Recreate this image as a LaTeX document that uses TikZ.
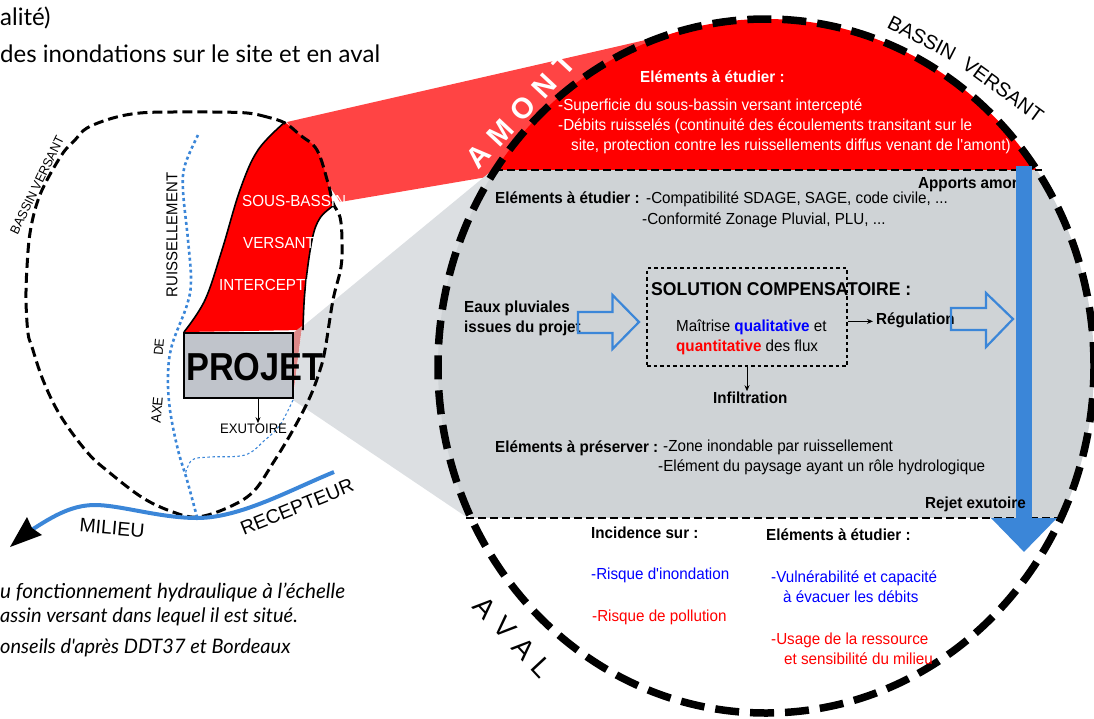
\documentclass[tikz,border=0pt]{standalone}
\usepackage{fontspec}
\usetikzlibrary{arrows.meta}
\setmainfont{Liberation Sans}
\newfontfamily\armain[FakeStretch=0.95]{Liberation Sans}
\newfontfamily\arproj[FakeStretch=0.88]{Liberation Sans}
\newfontfamily\lato{Lato}
\definecolor{flowblue}{HTML}{3B86D8}
\definecolor{fadered}{HTML}{FF4444}
\definecolor{fadegray}{HTML}{DCDFE2}
\definecolor{zonegray}{HTML}{CFD3D6}
\definecolor{boxgray}{HTML}{C0C4CB}
\definecolor{overlap}{HTML}{DD8888}
\tikzset{
  lbl/.style={inner sep=0pt, anchor=base west, font=\armain\fontsize{#1}{#1}\selectfont},
  lbl/.default=16,
  lblb/.style={inner sep=0pt, anchor=base west, font=\armain\bfseries\fontsize{#1}{#1}\selectfont},
  lblb/.default=16,
  lblc/.style={inner sep=0pt, anchor=center, font=\rmfamily\fontsize{#1}{#1}\selectfont},
  page/.style={inner sep=0pt, anchor=base west, font=\lato\fontsize{#1}{#1}\selectfont},
  pagei/.style={inner sep=0pt, anchor=base west, font=\lato\itshape\fontsize{#1}{#1}\selectfont},
  bassin/.style={line width=3pt, dash pattern=on 10pt off 5pt},
  bigcircle/.style={line width=7.5pt, dash pattern=on 24pt off 11pt},
  hollow/.style={draw=flowblue, line width=2.2pt, line join=miter},
  thinflow/.style={-{Stealth[length=6pt,width=5pt]}, line width=.9pt},
}
\begin{document}
\begin{tikzpicture}[x=1pt, y=-1pt]
  \useasboundingbox (0,0) rectangle (1094,718);

  % --- Text of the page ---
  \node[page=24] (line1) at (0,25) {alité)};
  \node[page=24] (line2) at (0,62) {des inondations sur le site et en aval};
  \node[pagei=20.7] (cap1) at (0,598) {u fonctionnement hydraulique à l’échelle};
  \node[pagei=20] (cap2) at (0,622) {assin versant dans lequel il est situé.};
  \node[pagei=20] (cap3) at (0,653) {onseils d'après DDT37 et Bordeaux};

  % --- Funnels from the small basin to the zoom ---
  \fill[fadered] (287,122) -- (650,39) -- (487,177) -- (340,202) -- cycle;
  \fill[fadegray] (302,327) -- (495,168) -- (468,518) -- (293,400) -- cycle;

  % --- Zoom: the three zones ---
  \begin{scope}
    \clip (766,366) ellipse [x radius=328pt, y radius=347pt];
    \fill[red] (430,15) rectangle (1094,170);
    \fill[zonegray] (430,170) rectangle (1094,518);
  \end{scope}

  % --- Small basin ---
  \fill[red] plot[smooth, tension=.6] coordinates {(184,332) (205,300) (222,250) (240,190) (258,150) (285,122)}
    -- plot[smooth, tension=.6] coordinates {(300,135) (317,150) (328,183) (333,206)}
    -- plot[smooth, tension=.6] coordinates {(320,218) (312,240) (305,290) (303,330)} -- cycle;
  \fill[overlap] (293,333) -- (302,326) -- (293,397) -- cycle;
  \draw[line width=1.6pt] plot[smooth, tension=.6] coordinates {(184,332) (205,300) (222,250) (240,190) (258,150) (285,122)};
  \draw[line width=1.6pt] plot[smooth, tension=.6] coordinates {(333,206) (320,218) (312,240) (305,290) (303,330)};
  \draw[bassin] plot[smooth cycle, tension=.6] coordinates {(285,123) (267,117) (247,113) (213,112) (173,112) (140,113) (113,118) (87,128) (75,140) (63,153) (47,180) (37,203) (30,233) (27,267) (26,300) (28,333) (32,347) (43,380) (60,415) (87,452) (110,473) (143,498) (173,512) (197,517) (227,508) (253,492) (273,463) (293,430) (310,397) (320,370) (325,350) (333,300) (341,267) (342,240) (340,217) (333,203) (328,183) (317,150) (300,135)};
  \draw[flowblue, line width=2.6pt, dash pattern=on 3pt off 3pt] plot[smooth, tension=.6] coordinates {(198,135) (185,165) (183,190) (188,240) (191,280) (187,305) (172,345) (168,375) (170,410) (178,450) (187,480) (197,517)};
  \draw[flowblue, line width=1.1pt, dash pattern=on 2.5pt off 2.5pt] plot[smooth, tension=.6] coordinates {(293,400) (280,425) (265,440) (245,455) (210,457) (192,460) (185,475)};

  \node[lbl=16, white] (sb1) at (242,206) {SOUS-BASSIN};
  \node[lbl=16, white] (sb2) at (243,248) {VERSANT};
  \node[lbl=16, white] (sb3) at (219,290) {INTERCEPTÉ};

  \node[draw, fill=boxgray, line width=2pt, minimum width=109pt, minimum height=65pt, inner sep=0pt] (projet) at (238.5,365.5) {};
  \node[inner sep=0pt, anchor=base west, font=\arproj\bfseries\fontsize{39}{39}\selectfont] (projettxt) at (186,380) {PROJET};
  \node[lbl=13.8] (exutoire) at (220,433) {EXUTOIRE};
  \draw[thinflow] (projet.south) ++(19.5,0) coordinate (exu) -- (exu |- exutoire.north);

  \node[lbl=13, rotate=64, anchor=center] (bv) at (37,185) {BASSIN VERSANT};
  \node[lbl=15.7, rotate=90, anchor=center] (ruis) at (172,235) {RUISSELLEMENT};
  \node[lbl=13, rotate=85, anchor=center] (de) at (159,347) {DE};
  \node[lbl=14, rotate=85, anchor=center] (axe) at (157,410) {AXE};

  % --- River ---
  \coordinate (riverstart) at (334,472);
  \coordinate (riverend) at (27,533);
  \draw[flowblue, line width=4pt] (riverstart) .. controls (290,490) and (240,518) .. (197,518)
    .. controls (160,518) and (120,505) .. (95,505) .. controls (70,505) and (50,518) .. (riverend);
  \fill (10,547) -- (27,517) -- (32,528) -- (42,535) -- cycle;
  \node[lblc=19.5, rotate=-5] (milieu) at (112,528) {MILIEU};
  \node[lblc=19.5, rotate=22] (recepteur) at (297,507) {RECEPTEUR};

  % --- Zoom: borders ---
  \draw[line width=2.6pt, dash pattern=on 8pt off 4pt] (495,170) -- (1042,170);
  \draw[line width=2.6pt, dash pattern=on 8pt off 4pt] (466,518) -- (1057,518);
  \draw[bigcircle] (766,366) ellipse [x radius=328pt, y radius=347pt];

  % --- Upstream zone ---
  \node[rotate=47, white, inner sep=0pt, font=\bfseries\rmfamily\fontsize{29}{29}\selectfont] (amont) at (521,111) {A\,\,M\,\,O\,\,N\,\,T};
  \node[lblc=20, rotate=-27] (bassin) at (922,38) {BASSIN};
  \node[lblc=20, rotate=-36] (versant) at (1003,90) {VERSANT};
  \node[lblb, white] (amontT) at (640,82) {Eléments à étudier :};
  \node[lbl, white] (am1) at (558,110) {-Superficie du sous-bassin versant intercepté};
  \node[lbl, white] (am2) at (558,130) {-Débits ruisselés (continuité des écoulements transitant sur le};
  \node[lbl, white] (am3) at (571,150) {site, protection contre les ruissellements diffus venant de l'amont)};

  % --- Site zone ---
  \node[lblb] (apports) at (918,188) {Apports amont};
  \node[lblb] (siteT) at (495,203) {Eléments à étudier :};
  \node[lbl] (site1) at (646,203) {-Compatibilité SDAGE, SAGE, code civile, ...};
  \node[lbl] (site2) at (642,224) {-Conformité Zonage Pluvial, PLU, ...};

  \node[draw, line width=1.6pt, dash pattern=on 3.5pt off 3pt, minimum width=200pt, minimum height=98pt, inner sep=0pt] (solution) at (747,317) {};
  \node[lblb=18.5] (solT) at (651,295) {SOLUTION COMPENSATOIRE :};
  \node[lbl] (sol1) at (676,331) {Maîtrise \textbf{\textcolor{blue}{qualitative}} et};
  \node[lbl] (sol2) at (676,351) {\textbf{\textcolor{red}{quantitative}} des flux};

  \node[lblb] (eaux1) at (464,312) {Eaux pluviales};
  \node[lblb] (eaux2) at (464,332) {issues du projet};
  \draw[hollow] (578,312) -- (612.5,312) -- (612.5,295) -- (639,322) -- (612.5,349) -- (612.5,333) -- (578,333) -- cycle;

  \node[lblb] (regul) at (876,324) {Régulation};
  \node[lblb] (infil) at (713,403) {Infiltration};
  \draw[thinflow, shorten >=3pt] (solution.east |- regul.mid) -- (regul.mid west);
  \draw[thinflow] (solution.south) -- (solution.south |- infil.north);
  \draw[hollow] (951,308) -- (986,308) -- (986,293) -- (1013,319) -- (986,347) -- (986,330) -- (951,330) -- cycle;

  \node[lblb] (presT) at (495,452) {Eléments à préserver :};
  \node[lbl] (pres1) at (663,451) {-Zone inondable par ruissellement};
  \node[lbl] (pres2) at (658,471) {-Elément du paysage ayant un rôle hydrologique};

  % --- Big arrow ---
  \coordinate (flowtop) at (1024,166);
  \coordinate (flowbot) at (1024,552);
  \draw[flowblue, line width=16pt, -{Triangle[length=34pt,width=64pt]}] (flowtop) -- (flowbot);
  \node[lblb] (rejet) at (925,508) {Rejet exutoire};

  % --- Downstream zone ---
  \node[rotate=-47, inner sep=0pt, font=\rmfamily\fontsize{28}{28}\selectfont] (aval) at (513,637) {A\,\,V\,\,A\,\,L};
  \node[lblb] (incT) at (591,538) {Incidence sur :};
  \node[lblb] (etuT) at (766,540) {Eléments à étudier :};
  \node[lbl, blue] (inc1) at (591,579) {-Risque d'inondation};
  \node[lbl, red] (inc2) at (592,621) {-Risque de pollution};
  \node[lbl, blue] (etu1) at (771,582) {-Vulnérabilité et capacité};
  \node[lbl, blue] (etu2) at (783,602) {à évacuer les débits};
  \node[lbl, red] (etu3) at (771,644) {-Usage de la ressource};
  \node[lbl, red] (etu4) at (784,664) {et sensibilité du milieu};
\end{tikzpicture}
\end{document}
